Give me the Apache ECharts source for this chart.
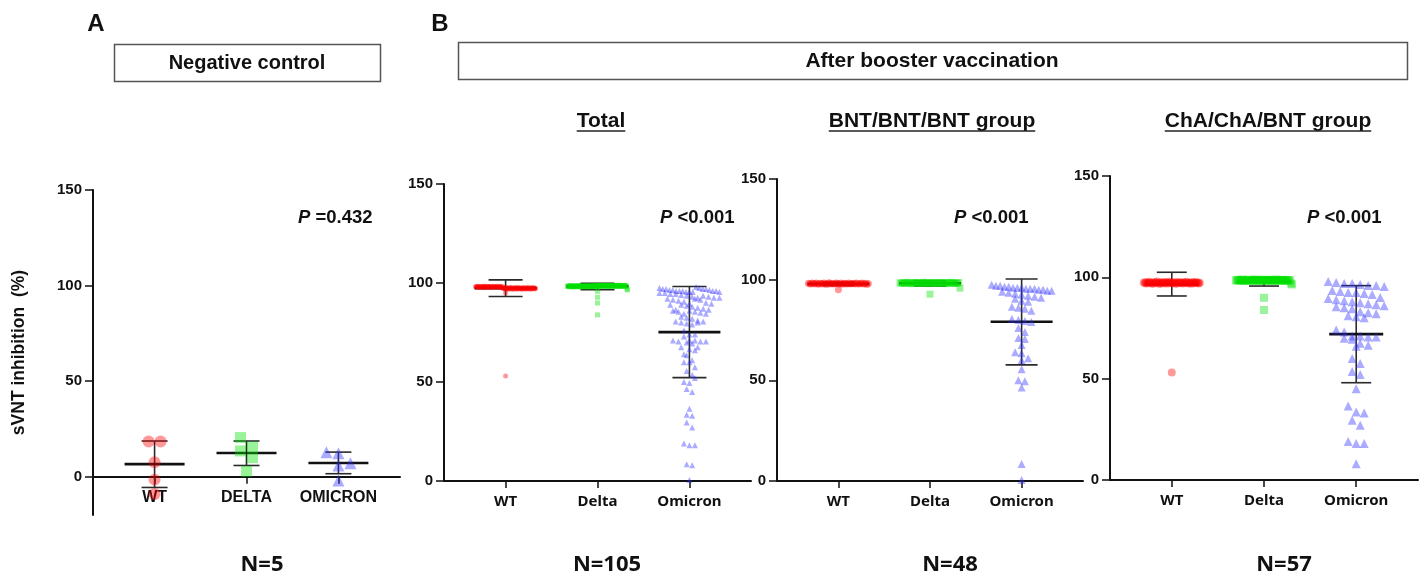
<!DOCTYPE html>
<html lang="en" style="height: 100%">
<head>
<meta charset="utf-8">
<title>sVNT inhibition</title>
</head>
<body style="height: 100%; margin: 0; background: #fff">
<div id="container" style="width: 1426px; height: 578px"></div>

<script type="text/javascript" src="https://cdn.jsdelivr.net/npm/echarts/dist/echarts.min.js"></script>

<script type="text/javascript">

// ---- data ----
const ncNames = ['WT', 'DELTA', 'OMICRON'];
const bNames = ['WT', 'Delta', 'Omicron'];

// A: negative control (N=5)
const ncWT = [18.4, 18.4, 7.6, -1.5, -9.0];
const ncDelta = [20.5, 15.5, 13.5, 10.0, 2.8];
const ncOmicron = [12.8, 12.3, 7.1, 5.9, -1.9];
const ncMean = [6.6, 12.4, 7.2];
const ncSdLow = [-5.6, 5.9, 1.6];
const ncSdHigh = [18.7, 18.7, 12.9];

// B: BNT/BNT/BNT group (N=48)
const bntWT = [98.2, 98.0, 97.9, 98.3, 98.1, 97.8, 98.4, 98.0, 97.7, 98.2,
  98.1, 97.9, 98.3, 98.0, 97.6, 98.2, 98.5, 97.9, 98.1, 98.0,
  97.8, 98.3, 98.2, 97.9, 98.0, 98.4, 97.7, 98.1, 98.2, 97.9,
  98.0, 98.3, 97.8, 98.1, 98.0, 98.2, 97.9, 98.4, 98.0, 97.8,
  98.1, 98.3, 97.9, 98.0, 98.2, 97.6, 98.1, 95.0];
const bntDelta = [98.4, 98.2, 98.6, 98.1, 98.5, 98.3, 98.7, 98.2, 98.4, 98.0,
  98.5, 98.3, 98.6, 98.2, 98.4, 98.1, 98.5, 98.3, 98.7, 98.2,
  98.4, 98.6, 98.0, 98.3, 98.5, 98.2, 98.4, 98.6, 98.1, 98.3,
  98.5, 98.4, 98.2, 98.6, 98.3, 98.0, 98.5, 98.4, 98.2, 98.7,
  98.3, 98.5, 98.1, 98.4, 98.2, 98.6, 95.8, 92.8];
const bntOmicron = [97.5, 97, 97, 96.5, 96.5, 96, 96, 96, 95.5, 95.5,
  95.5, 95, 95, 94.5, 94.5, 94, 93.5, 93, 92.5, 92,
  91.5, 91, 90.5, 89.5, 89, 86.5, 86, 85.5, 84.5, 80.5,
  80, 79.5, 79, 76, 74, 71, 70.5, 67.5, 64, 63.5,
  61, 60, 55.5, 50, 49.5, 46.5, 8.5, 0.5];
const bntMean = [97.9, 98.2, 79.1];
const bntSdLow = [97.1, 96.9, 57.7];
const bntSdHigh = [98.7, 99.5, 100.3];

// B: ChA/ChA/BNT group (N=57)
const chaWT = [97.4, 97.1, 97.6, 96.9, 97.3, 97.8, 97.2, 97.5, 96.8, 97.4,
  97.0, 97.6, 97.3, 97.9, 97.1, 97.5, 96.7, 97.4, 97.2, 97.7,
  97.3, 97.0, 97.6, 97.4, 96.9, 97.8, 97.2, 97.5, 97.1, 97.3,
  97.6, 96.8, 97.4, 97.0, 97.7, 97.2, 97.5, 97.3, 96.9, 97.6,
  97.1, 97.4, 97.8, 97.2, 97.0, 97.5, 97.3, 96.8, 97.6, 97.4,
  97.1, 97.7, 97.2, 97.5, 97.0, 97.3, 53.0];
const chaDelta = [98.6, 98.4, 98.8, 98.3, 98.7, 98.5, 98.9, 98.4, 98.6, 98.2,
  98.7, 98.5, 98.8, 98.4, 98.6, 98.3, 98.7, 98.5, 98.9, 98.4,
  98.6, 98.8, 98.2, 98.5, 98.7, 98.4, 98.6, 98.8, 98.3, 98.5,
  98.7, 98.6, 98.4, 98.8, 98.5, 98.2, 98.7, 98.6, 98.4, 98.9,
  98.5, 98.7, 98.3, 98.6, 98.4, 98.8, 98.5, 98.6, 98.3, 98.7,
  98.4, 98.6, 98.5, 97.0, 96.5, 89.9, 83.9];
const chaOmicron = [98, 97.5, 97, 97, 96.5, 96, 96, 95.5, 93.5, 93,
  92.5, 92.5, 92, 91.5, 90, 89.5, 89, 88.5, 88, 87.5,
  87, 86.5, 86, 85.5, 85, 84.5, 83, 82.5, 82, 81,
  80.5, 80, 74, 73, 71, 71, 70.5, 70.5, 70, 69.5,
  67.5, 66.5, 66, 60, 57.5, 53.5, 52, 45, 36.5, 33.5,
  33, 29.5, 27, 19, 18, 18, 8];
const chaMean = [96.6, 97.8, 72.0];
const chaSdLow = [90.8, 95.7, 48.0];
const chaSdHigh = [102.5, 99.8, 95.9];

// Total = both groups (N=105)
const totalMean = [97.4, 98.3, 75.2];
const totalSdLow = [93.2, 96.6, 52.2];
const totalSdHigh = [101.6, 99.9, 98.2];

const pLabels = ['=0.432', '<0.001', '<0.001', '<0.001'];
const nLabels = ['N=5', 'N=105', 'N=48', 'N=57'];

// ---- layout ----
const FONT = '"Liberation Sans", Arial, sans-serif';
const X_MIN = -0.67, X_MAX = 2.67;
const SYMBOLS = ['circle', 'rect', 'triangle'];
const COLORS = ['rgba(255,0,0,0.5)', 'rgba(0,225,0,0.5)', 'rgba(45,45,255,0.5)'];

const panels = [
  { left: 93, top: 190, width: 307, height: 325, yMin: -20, names: ncNames,
    sets: [ncWT, ncDelta, ncOmicron], mean: ncMean, lo: ncSdLow, hi: ncSdHigh,
    sizes: [12, 11, 12], step: 12, maxHalf: 30, meanHalf: 30, capHalf: 13,
    labelFont: { fontSize: 16, fontFamily: FONT }, pX: 298, nX: 262 },
  { left: 444, top: 184, width: 307, height: 297, yMin: 0, names: bNames,
    sets: [bntWT.concat(chaWT), bntDelta.concat(chaDelta), bntOmicron.concat(chaOmicron)],
    mean: totalMean, lo: totalSdLow, hi: totalSdHigh,
    sizes: [5, 5, 6], step: 5.5, maxHalf: 30, meanHalf: 31, capHalf: 17,
    labelFont: { fontSize: 15, fontFamily: '"Noto Sans", sans-serif' }, pX: 660, nX: 607 },
  { left: 777, top: 179, width: 306, height: 302, yMin: 0, names: bNames,
    sets: [bntWT, bntDelta, bntOmicron], mean: bntMean, lo: bntSdLow, hi: bntSdHigh,
    sizes: [7, 7, 8], step: 6.5, maxHalf: 30, meanHalf: 31, capHalf: 16,
    labelFont: { fontSize: 15, fontFamily: '"Noto Sans", sans-serif' }, pX: 954, nX: 950 },
  { left: 1110, top: 176, width: 308, height: 304, yMin: 0, names: bNames,
    sets: [chaWT, chaDelta, chaOmicron], mean: chaMean, lo: chaSdLow, hi: chaSdHigh,
    sizes: [8, 8, 9], step: 8, maxHalf: 28, meanHalf: 27, capHalf: 15,
    labelFont: { fontSize: 15, fontFamily: '"Noto Sans", sans-serif' }, pX: 1307, nX: 1284 }
];

// scatter-dot layout: values close together share a row and are spread sideways,
// keeping the input order inside a row
function swarm(values, cat, pxX, pxY, step, maxHalf) {
  const idx = values.map(function (v, i) { return i; })
    .sort(function (a, b) { return values[b] - values[a]; });
  const binH = step / pxY;
  const out = [];
  let i = 0;
  while (i < idx.length) {
    let j = i;
    while (j < idx.length && values[idx[i]] - values[idx[j]] < binH) j++;
    const row = idx.slice(i, j).sort(function (a, b) { return a - b; });
    const n = row.length;
    let s = step;
    if (n > 1 && (n - 1) * s / 2 > maxHalf) s = 2 * maxHalf / (n - 1);
    row.forEach(function (r, k) {
      out.push([cat + (k - (n - 1) / 2) * s / pxX, values[r]]);
    });
    i = j;
  }
  return out;
}

function errorBars(meanHalf, capHalf) {
  return function (params, api) {
    const x = api.value(0);
    const c = api.coord([x, api.value(1)]);
    const lo = api.coord([x, api.value(2)]);
    const hi = api.coord([x, api.value(3)]);
    const thin = { stroke: '#2a2a2a', lineWidth: 1.6 };
    return {
      type: 'group',
      children: [
        { type: 'line', shape: { x1: c[0], y1: hi[1], x2: c[0], y2: lo[1] }, style: thin },
        { type: 'line', shape: { x1: c[0] - capHalf, y1: hi[1], x2: c[0] + capHalf, y2: hi[1] }, style: thin },
        { type: 'line', shape: { x1: c[0] - capHalf, y1: lo[1], x2: c[0] + capHalf, y2: lo[1] }, style: thin },
        { type: 'line', shape: { x1: c[0] - meanHalf, y1: c[1], x2: c[0] + meanHalf, y2: c[1] },
          style: { stroke: '#111', lineWidth: 2.6 } }
      ]
    };
  };
}

const grids = [], xAxes = [], yAxes = [], series = [];
panels.forEach(function (p, k) {
  const pxX = p.width / (X_MAX - X_MIN);
  const pxY = p.height / (150 - p.yMin);
  grids.push({ left: p.left, top: p.top, width: p.width, height: p.height,
    containLabel: false, outerBoundsMode: 'none' });
  xAxes.push({
    gridIndex: k, type: 'value', min: X_MIN, max: X_MAX,
    // the x axis sits at y = 0, which is above the grid bottom in panel A
    offset: p.yMin * pxY,
    axisLine: { show: true, onZero: false, lineStyle: { color: '#111', width: 2 } },
    axisTick: { show: true, customValues: [0, 1, 2], length: 7, lineStyle: { color: '#111', width: 1.5 } },
    axisLabel: { customValues: [0, 1, 2], margin: 13, color: '#111', fontWeight: 'bold',
      fontSize: p.labelFont.fontSize, fontFamily: p.labelFont.fontFamily,
      formatter: function (v) { return p.names[Math.round(v)]; } },
    splitLine: { show: false }
  });
  yAxes.push({
    gridIndex: k, type: 'value', min: p.yMin, max: 150,
    name: k === 0 ? 'sVNT inhibition  (%)' : '',
    nameLocation: 'middle', nameGap: 65,
    nameTextStyle: { fontWeight: 'bold', fontSize: 17.5, color: '#111', fontFamily: FONT },
    axisLine: { show: true, onZero: false, lineStyle: { color: '#111', width: 2 } },
    axisTick: { show: true, customValues: [0, 50, 100, 150], length: 8, lineStyle: { color: '#111', width: 1.5 } },
    axisLabel: { customValues: [0, 50, 100, 150], margin: 11, color: '#111', fontWeight: 'bold',
      fontSize: 15, fontFamily: FONT },
    splitLine: { show: false }
  });
  series.push({
    type: 'custom', xAxisIndex: k, yAxisIndex: k, z: 2, silent: true,
    renderItem: errorBars(p.meanHalf, p.capHalf),
    encode: { x: 0, y: [1, 2, 3] },
    data: [0, 1, 2].map(function (c) { return [c, p.mean[c], p.lo[c], p.hi[c]]; })
  });
  p.sets.forEach(function (vals, c) {
    series.push({
      type: 'scatter', xAxisIndex: k, yAxisIndex: k, z: 3, silent: true,
      symbol: SYMBOLS[c], symbolSize: p.sizes[c],
      itemStyle: { color: COLORS[c] },
      data: swarm(vals, c, pxX, pxY, p.step, p.maxHalf)
    });
  });
});

// text width for the underlined subtitles
const measureCtx = document.createElement('canvas').getContext('2d');
function textWidth(t, font) { measureCtx.font = font; return measureCtx.measureText(t).width; }

const graphic = [];
function addText(t, x, y, font, align) {
  graphic.push({ type: 'text', x: x, y: y, silent: true,
    style: { text: t, font: font, fill: '#111', align: align || 'center', verticalAlign: 'middle' } });
}
addText('A', 96, 24, 'bold 24px ' + FONT);
addText('B', 440, 24, 'bold 24px ' + FONT);
graphic.push({ type: 'rect', shape: { x: 114.5, y: 44.5, width: 266, height: 37 },
  style: { fill: '#fff', stroke: '#555', lineWidth: 1.5 } });
graphic.push({ type: 'rect', shape: { x: 458.5, y: 42.5, width: 949, height: 37 },
  style: { fill: '#fff', stroke: '#555', lineWidth: 1.5 } });
addText('Negative control', 247, 63, 'bold 20px ' + FONT);
addText('After booster vaccination', 932, 61, 'bold 21px ' + FONT);

const subFont = 'bold 21px ' + FONT;
[['Total', 601], ['BNT/BNT/BNT group', 932], ['ChA/ChA/BNT group', 1268]].forEach(function (s) {
  addText(s[0], s[1], 121, subFont);
  const w = textWidth(s[0], subFont);
  graphic.push({ type: 'line', silent: true,
    shape: { x1: s[1] - w / 2, y1: 131, x2: s[1] + w / 2, y2: 131 },
    style: { stroke: '#222', lineWidth: 1.5 } });
});

panels.forEach(function (p, k) {
  graphic.push({ type: 'text', x: p.pX, y: 218, silent: true,
    style: { text: '{i|P} ' + pLabels[k], fill: '#111', align: 'left', verticalAlign: 'middle',
      fontSize: 18.5, fontWeight: 'bold', fontFamily: FONT,
      rich: { i: { fontStyle: 'italic', fontWeight: 'bold', fontSize: 18.5, fontFamily: FONT, fill: '#111' } } } });
  addText(nLabels[k], p.nX, 565, 'bold 22px "Noto Sans", sans-serif');
});

var dom = document.getElementById('container');
var myChart = echarts.init(dom, null, { renderer: 'canvas' });
var option = {
  backgroundColor: '#fff',
  animation: false,
  grid: grids,
  xAxis: xAxes,
  yAxis: yAxes,
  series: series,
  graphic: graphic
};
myChart.setOption(option);
window.addEventListener('resize', myChart.resize);
</script>
</body>
</html>
